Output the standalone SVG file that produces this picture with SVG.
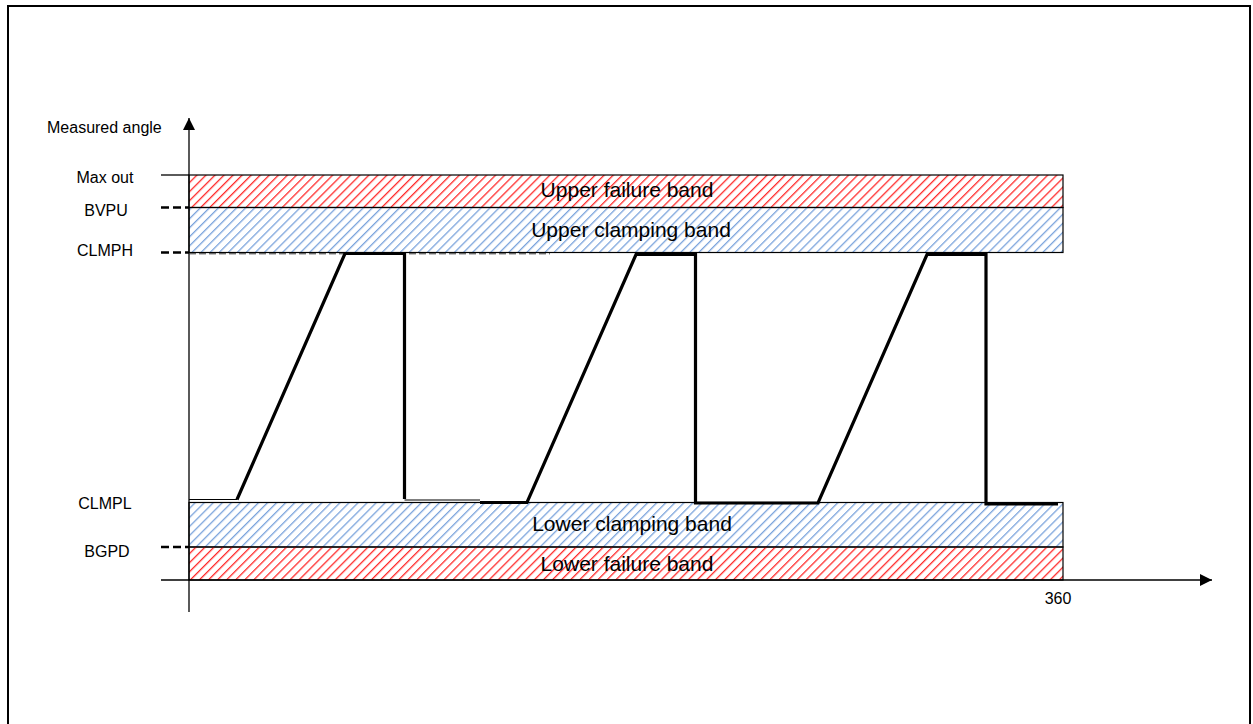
<svg xmlns="http://www.w3.org/2000/svg" width="1253" height="724" viewBox="0 0 1253 724">
<style>
.lbl{font-family:"Liberation Sans",Arial,sans-serif;font-size:16px;fill:#000}
.band{font-family:"Liberation Sans",Arial,sans-serif;font-size:21px;fill:#000;text-anchor:middle}
.edge{fill:none;stroke:#000;stroke-width:1.2}
.tick{stroke:#000;stroke-width:2.5;stroke-dasharray:8 4;fill:none}
.sig{fill:none;stroke:#000;stroke-width:3.2;stroke-linejoin:miter}
.thin{fill:none;stroke:#000;stroke-width:1.2}
</style>
<defs>
<pattern id="hatchRed" patternUnits="userSpaceOnUse" width="6.4" height="6.4" patternTransform="rotate(45)">
<rect x="0" y="0" width="1.3" height="6.4" fill="#ff2a2a"/>
</pattern>
<pattern id="hatchBlue" patternUnits="userSpaceOnUse" width="6.4" height="6.4" patternTransform="rotate(45)">
<rect x="0" y="0" width="1.3" height="6.4" fill="#7aa3dc"/>
</pattern>
<marker id="arrow" markerWidth="12" markerHeight="12" refX="12" refY="6" orient="auto" markerUnits="userSpaceOnUse">
<path d="M0,0 L12,6 L0,12 Z" fill="#000"/>
</marker>
</defs>
<rect x="8" y="6" width="1242" height="730" fill="#fff" stroke="#000" stroke-width="2"/>

<g id="bands">
<g id="upper-failure-band">
<rect x="189" y="175" width="874" height="32.5" fill="url(#hatchRed)"/>
<rect x="189" y="175" width="874" height="32.5" class="edge"/>
<text class="band" x="627" y="197">Upper failure band</text>
</g>
<g id="upper-clamping-band">
<rect x="189" y="207.5" width="874" height="45" fill="url(#hatchBlue)"/>
<rect x="189" y="207.5" width="874" height="45" class="edge"/>
<text class="band" x="631" y="237">Upper clamping band</text>
</g>
<g id="lower-clamping-band">
<rect x="189" y="502.5" width="874" height="44.5" fill="url(#hatchBlue)"/>
<rect x="189" y="502.5" width="874" height="44.5" class="edge"/>
<text class="band" x="632" y="531">Lower clamping band</text>
</g>
<g id="lower-failure-band">
<rect x="189" y="547" width="874" height="33" fill="url(#hatchRed)"/>
<rect x="189" y="547" width="874" height="33" class="edge"/>
<text class="band" x="627" y="571">Lower failure band</text>
</g>
</g>

<g id="axes">
<line x1="189" y1="612" x2="189" y2="118" stroke="#000" stroke-width="1.3" marker-end="url(#arrow)"/>
<line x1="161" y1="580" x2="1212" y2="580" stroke="#000" stroke-width="1.3" marker-end="url(#arrow)"/>
<line x1="161" y1="175" x2="189" y2="175" stroke="#000" stroke-width="1.3"/>
<text class="lbl" x="47" y="133">Measured angle</text>
<text class="lbl" x="1058" y="604" text-anchor="middle">360</text>
</g>

<g id="levels">
<text class="lbl" x="105" y="183" text-anchor="middle">Max out</text>
<text class="lbl" x="106" y="216" text-anchor="middle">BVPU</text>
<text class="lbl" x="105" y="256" text-anchor="middle">CLMPH</text>
<text class="lbl" x="105" y="509" text-anchor="middle">CLMPL</text>
<text class="lbl" x="107" y="557" text-anchor="middle">BGPD</text>
<line class="tick" x1="161" y1="207.5" x2="189" y2="207.5"/>
<line class="tick" x1="161" y1="252.5" x2="189" y2="252.5"/>
<line class="tick" x1="161" y1="547" x2="189" y2="547"/>
<line x1="189" y1="253.8" x2="550" y2="253.8" stroke="#333" stroke-width="1" stroke-dasharray="7 3"/>
</g>

<g id="connectors">
<line class="thin" x1="189" y1="499.5" x2="237" y2="499.5"/>
<polyline class="sig" points="237,499.5 345,253.5 404.5,253.5 404.5,499"/>
<line class="thin" x1="404.5" y1="500" x2="480" y2="500"/>
<polyline class="sig" points="480,502.5 527,502.5 636,254.5 695.5,254.5 695.5,503 818,503 927,254.5 986,254.5 986,504 1058,504"/>
</g>
</svg>
